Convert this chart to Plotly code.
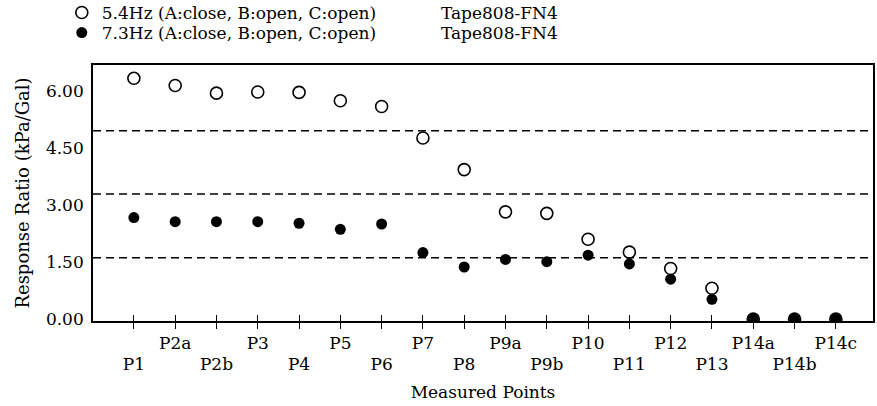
import plotly.graph_objects as go

points = ["P1", "P2a", "P2b", "P3", "P4", "P5", "P6", "P7", "P8", "P9a",
          "P9b", "P10", "P11", "P12", "P13", "P14a", "P14b", "P14c"]
hz54 = [6.33, 6.14, 5.94, 5.97, 5.96, 5.74, 5.59, 4.76, 3.93, 2.82,
        2.78, 2.10, 1.76, 1.33, 0.81, 0.0, 0.0, 0.0]
hz73 = [2.67, 2.56, 2.56, 2.56, 2.52, 2.36, 2.50, 1.75, 1.37, 1.57,
        1.51, 1.68, 1.45, 1.05, 0.52, 0.0, 0.0, 0.0]
ref_lines = [1.61, 3.29, 4.95]
y_ticks = [0.0, 1.5, 3.0, 4.5, 6.0]
y_ticktext = ["0.00", "1.50", "3.00", "4.50", "6.00"]
GAP = "\u00a0" * 12
name54 = "5.4Hz (A:close, B:open, C:open)" + GAP + "Tape808-FN4"
name73 = "7.3Hz (A:close, B:open, C:open)" + GAP + "Tape808-FN4"

FONT = "DejaVu Serif"
idx = list(range(len(points)))
upper_text = [p if i % 2 == 1 else "" for i, p in enumerate(points)]
lower_text = [p if i % 2 == 0 else "" for i, p in enumerate(points)]

fig = go.Figure()
fig.add_trace(go.Scatter(
    x=idx, y=hz54, mode="markers", name=name54, legend="legend",
    marker=dict(symbol="circle-open", size=12, color="black", line=dict(width=1.6))))
fig.add_trace(go.Scatter(
    x=idx, y=hz73, mode="markers", name=name73, legend="legend2",
    marker=dict(symbol="circle", size=11, color="black")))
fig.add_trace(go.Scatter(x=[], y=[], xaxis="x2", showlegend=False, hoverinfo="skip"))

for v in ref_lines:
    fig.add_shape(type="line", xref="paper", x0=0, x1=1, yref="y", y0=v, y1=v,
                  line=dict(color="black", width=1.5, dash="8px,5px"), layer="below")

xr = [-0.99, 17.9]
leg_common = dict(xanchor="left", yanchor="middle", bgcolor="rgba(0,0,0,0)",
                  font=dict(family=FONT, size=17), itemwidth=30)
fig.update_layout(
    width=877, height=406,
    margin=dict(l=93, r=4, t=65, b=85, autoexpand=False),
    paper_bgcolor="white", plot_bgcolor="white",
    font=dict(family=FONT, size=16, color="black"),
    showlegend=True,
    legend=dict(x=-0.04, y=(321 - 13) / 256, **leg_common),
    legend2=dict(x=-0.04, y=(321 - 33) / 256, **leg_common),
    xaxis=dict(range=xr, tickmode="array", tickvals=idx, ticktext=upper_text,
               tickangle=0,
               showgrid=False, zeroline=False, showline=True, linecolor="black",
               linewidth=1.7, mirror=True, ticks="outside", ticklen=6,
               tickcolor="black", tickwidth=1.2,
               tickfont=dict(family=FONT, size=17),
               title=dict(text="Measured Points", font=dict(family=FONT, size=17),
                          standoff=34)),
    xaxis2=dict(range=xr, overlaying="x", anchor="y", side="bottom",
                tickmode="array", tickvals=idx, ticktext=lower_text, tickangle=0,
                showgrid=False, zeroline=False, showline=False,
                ticks="inside", ticklen=6, tickcolor="black", tickwidth=1.2,
                ticklabelstandoff=31,
                tickfont=dict(family=FONT, size=17)),
    yaxis=dict(range=[-0.05, 6.68], tickmode="array", tickvals=y_ticks,
               ticktext=y_ticktext, showgrid=False, zeroline=False,
               showline=True, linecolor="black", linewidth=1.7, mirror=True,
               ticks="", ticklabelstandoff=4,
               tickfont=dict(family=FONT, size=17),
               title=dict(text="Response Ratio (kPa/Gal)",
                          font=dict(family=FONT, size=18), standoff=12)),
)

fig.write_html("out.html")
